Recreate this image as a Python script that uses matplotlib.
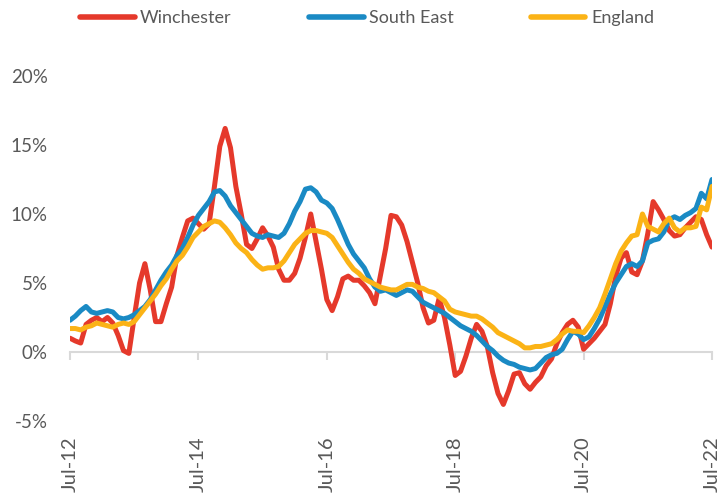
import matplotlib
matplotlib.use("Agg")
import matplotlib.pyplot as plt
import numpy as np

plt.rcParams['font.family'] = ['Lato', 'DejaVu Sans']

# Monthly index from Jul-12 (0) to Jul-22 (120)
tick_labels = ['Jul-12', 'Jul-14', 'Jul-16', 'Jul-18', 'Jul-20', 'Jul-22']
tick_months = [0, 24, 48, 72, 96, 120]

winchester = [
    1.0, 0.8, 0.65, 2.0, 2.3, 2.5, 2.2, 2.5, 2.1, 1.2,
    0.1, -0.1, 2.5, 5.0, 6.4, 4.5, 2.2, 2.2, 3.5, 4.7,
    7.0, 8.3, 9.5, 9.7, 9.3, 8.9, 9.3, 12.0, 14.9, 16.2,
    14.8, 12.0, 10.0, 7.8, 7.5, 8.2, 9.0, 8.4, 7.6, 6.0,
    5.2, 5.2, 5.7, 6.8, 8.3, 10.0, 8.0, 6.0, 3.8, 3.0,
    4.0, 5.3, 5.5, 5.2, 5.2, 4.8, 4.3, 3.5, 5.5, 7.5,
    9.9, 9.8, 9.2, 8.0, 6.5, 5.0, 3.2, 2.1, 2.3, 3.9,
    2.5, 0.5, -1.7, -1.4, -0.3, 1.0, 2.0, 1.5, 0.4, -1.5,
    -3.0, -3.8, -2.8, -1.6, -1.5, -2.3, -2.7, -2.2, -1.8, -1.0,
    -0.5, 0.6, 1.4, 2.0, 2.3, 1.8, 0.2, 0.6, 1.0, 1.5,
    2.0, 3.5, 5.5, 6.8, 7.2, 5.8, 5.6, 6.6, 8.6, 10.9,
    10.3, 9.6, 8.8, 8.4, 8.5, 9.0, 9.4, 9.8, 9.6, 8.5,
    7.6,
]

south_east = [
    2.3, 2.6, 3.0, 3.3, 2.9, 2.8, 2.9, 3.0, 2.9, 2.5,
    2.4, 2.5, 2.7, 3.0, 3.3, 3.8, 4.5, 5.2, 5.8, 6.3,
    7.0, 7.5, 8.3, 9.2, 9.9, 10.4, 10.9, 11.6, 11.7, 11.3,
    10.6, 10.1, 9.6, 9.1, 8.6, 8.4, 8.3, 8.5, 8.4, 8.3,
    8.6, 9.3, 10.2, 10.9, 11.8, 11.9, 11.6, 11.0, 10.8, 10.4,
    9.6, 8.7, 7.8, 7.1, 6.6, 6.1, 5.3, 4.7, 4.4, 4.5,
    4.3, 4.1, 4.3, 4.5, 4.4, 4.0, 3.6, 3.4, 3.2, 3.0,
    2.8, 2.5, 2.2, 1.9, 1.7, 1.5, 1.2, 0.8, 0.4, 0.1,
    -0.3, -0.6, -0.8, -0.9, -1.1, -1.2, -1.3, -1.2, -0.8, -0.4,
    -0.2, -0.1, 0.2, 0.9, 1.5, 1.3, 0.9, 1.1, 1.7, 2.4,
    3.3, 4.2, 5.0, 5.6, 6.2, 6.4, 6.2, 6.6, 7.9, 8.1,
    8.2, 8.7, 9.6, 9.8, 9.6, 9.9, 10.1, 10.4, 11.5, 11.1,
    12.5,
]

england = [
    1.7, 1.7, 1.6, 1.8, 1.9, 2.1, 2.0, 1.9, 1.8, 2.0,
    2.1, 2.0, 2.2, 2.7, 3.2, 3.7, 4.2, 4.8, 5.3, 6.0,
    6.6, 7.0, 7.6, 8.3, 8.7, 9.1, 9.3, 9.5, 9.4, 9.0,
    8.5, 7.9, 7.5, 7.2, 6.7, 6.3, 6.0, 6.1, 6.1, 6.2,
    6.6, 7.2, 7.8, 8.2, 8.6, 8.8, 8.8, 8.7, 8.6, 8.3,
    7.7, 7.1, 6.5, 6.0, 5.7, 5.3, 5.1, 4.9, 4.7, 4.6,
    4.5, 4.5, 4.7, 4.9, 4.9, 4.7, 4.6, 4.4, 4.3, 4.0,
    3.7, 3.1, 2.9, 2.8, 2.7, 2.6, 2.6, 2.4, 2.1, 1.8,
    1.4, 1.2, 1.0, 0.8, 0.6, 0.3, 0.3, 0.4, 0.4, 0.5,
    0.6, 0.9, 1.3, 1.6, 1.5, 1.5, 1.4, 1.9, 2.5, 3.2,
    4.2, 5.3, 6.4, 7.3, 7.9, 8.4, 8.5, 10.0, 9.1, 8.9,
    8.7, 9.3, 9.7, 9.0, 8.7, 9.0, 9.0, 9.1, 10.5, 10.3,
    12.0,
]

series_names = ['Winchester', 'South East', 'England']
colors = ['#E5392B', '#1A8AC4', '#FBB316']

months = np.arange(len(winchester))

fig = plt.figure(figsize=(7.2, 4.97), dpi=100)
ax = fig.add_axes([70/720, 1 - 421/497, (712-70)/720, (421-76)/497])

lines = []
for data, name, c in zip([winchester, south_east, england], series_names, colors):
    ln, = ax.plot(months, data, color=c, lw=3.6, label=name,
                  solid_joinstyle='round', solid_capstyle='round')
    lines.append(ln)

ax.set_xlim(0, 120)
ax.set_ylim(-5, 20)
ax.set_yticks([-5, 0, 5, 10, 15, 20])
ax.set_yticklabels(['-5%', '0%', '5%', '10%', '15%', '20%'])
ax.tick_params(axis='y', length=0, pad=16, labelsize=13.5, labelcolor='#595959')

for s in ['left', 'right', 'top']:
    ax.spines[s].set_visible(False)
ax.spines['bottom'].set_position(('data', 0))
ax.spines['bottom'].set_color('#D9D9D9')
ax.spines['bottom'].set_linewidth(1.5)
ax.spines['bottom'].set_zorder(0)
ax.set_xticks(tick_months)
ax.tick_params(axis='x', direction='out', length=6, width=1.5, color='#D9D9D9',
               labelbottom=False)

sec = ax.secondary_xaxis('bottom')
sec.set_xticks(tick_months)
sec.set_xticklabels(tick_labels, rotation=90, va='top', ha='center')
sec.tick_params(length=0, pad=11, labelsize=14.5, labelcolor='#595959')
sec.spines['bottom'].set_visible(False)

leg = fig.legend(handles=lines, loc='upper center', bbox_to_anchor=(0.51, 1.012),
                 ncol=3, frameon=False, fontsize=13, handlelength=3.0,
                 handletextpad=0.3, columnspacing=4.3, labelcolor='#595959')
for h in leg.get_lines():
    h.set_linewidth(4)
    h.set_solid_capstyle('round')

fig.savefig('out.png', dpi=100)
